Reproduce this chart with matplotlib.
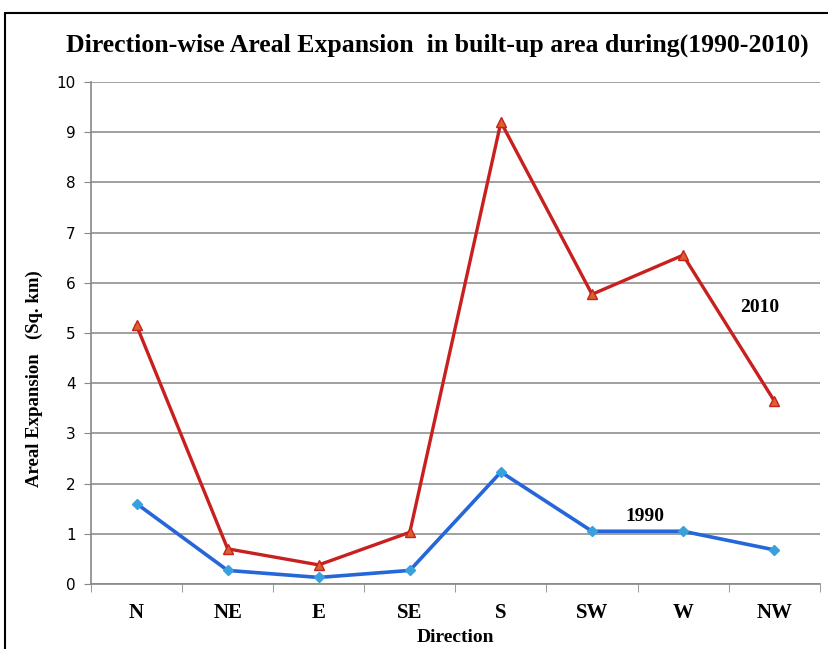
import numpy as np
import matplotlib.pyplot as plt
from matplotlib.patches import Rectangle

directions = ['N', 'NE', 'E', 'SE', 'S', 'SW', 'W', 'NW']
area_2010 = [5.15, 0.70, 0.38, 1.03, 9.20, 5.77, 6.55, 3.65]
area_1990 = [1.60, 0.27, 0.13, 0.27, 2.23, 1.05, 1.05, 0.68]

serif = 'Liberation Serif'

fig = plt.figure(figsize=(8.29, 6.49), dpi=100)
ax = fig.add_axes([0.1098, 0.1002, 0.879, 0.7735])

x = np.arange(len(directions))
ax.plot(x, area_2010, color='#C8201E', linewidth=2.4, marker='^', markersize=7,
        markerfacecolor='#D9622B', markeredgecolor='#C8201E', zorder=3)
ax.plot(x, area_1990, color='#2566D8', linewidth=2.6, marker='D', markersize=5.5,
        markerfacecolor='#38A0DC', markeredgecolor='#38A0DC', zorder=3)

ax.text(6.84, 5.5, '2010', fontfamily=serif, fontweight='bold', fontsize=14, ha='center', va='center')
ax.text(5.58, 1.35, '1990', fontfamily=serif, fontweight='bold', fontsize=14, ha='center', va='center')

ax.set_xlim(-0.5, len(directions) - 0.5)
ax.set_ylim(0, 10)
ax.set_yticks(range(0, 11))
ax.set_xticks(x)
ax.set_xticklabels(directions, fontfamily=serif, fontweight='bold', fontsize=15)
ax.set_xticks(np.arange(-0.5, len(directions)), minor=True)
ax.tick_params(axis='x', which='major', length=0, pad=14)
ax.tick_params(axis='x', which='minor', length=6, color='#888888')
ax.tick_params(axis='y', length=5, color='#888888', labelsize=11, pad=6)
ax.grid(axis='y', color='#999999', linewidth=1.3)
ax.set_axisbelow(True)
for s in ['top', 'right']:
    ax.spines[s].set_visible(False)
for s in ['left', 'bottom']:
    ax.spines[s].set_color('#888888')
    ax.spines[s].set_linewidth(1.2)

ax.set_xlabel('Direction', fontfamily=serif, fontweight='bold', fontsize=14, labelpad=4)
ax.set_ylabel('Areal Expansion   (Sq. km)', fontfamily=serif, fontweight='bold', fontsize=13.5)
ax.yaxis.set_label_coords(-0.066, 0.41)

fig.text(0.528, 0.93, 'Direction-wise Areal Expansion  in built-up area during(1990-2010)',
         fontfamily=serif, fontweight='bold', fontsize=18.5, ha='center', va='center')

fig.patches.append(Rectangle((5 / 829, -0.01), 1.1, 1 - 13 / 649 + 0.01, transform=fig.transFigure,
                             fill=False, edgecolor='black', linewidth=1.5))

plt.savefig('out.png', dpi=100)
